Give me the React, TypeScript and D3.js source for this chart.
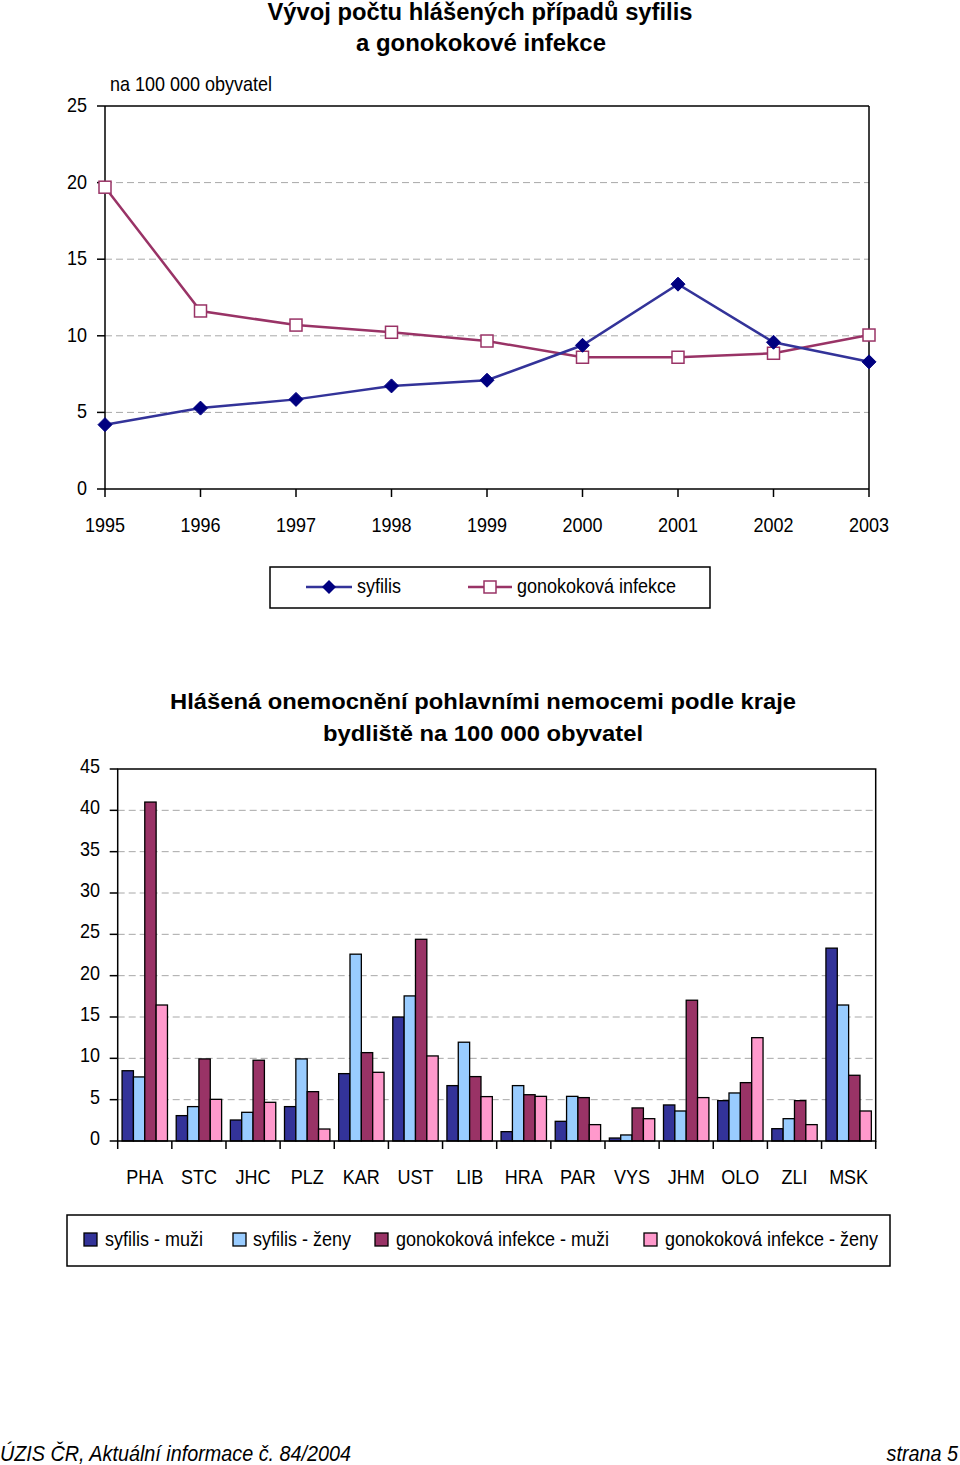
import React from "react";
import * as d3 from "d3";

const years = ["1995", "1996", "1997", "1998", "1999", "2000", "2001", "2002", "2003"];
const syfilis = [4.2, 5.28, 5.85, 6.73, 7.1, 9.38, 13.37, 9.58, 8.3];
const gonokokova = [19.7, 11.62, 10.7, 10.23, 9.66, 8.6, 8.6, 8.86, 10.05];
const topTicks = [0, 5, 10, 15, 20, 25];

const regions = ["PHA", "STC", "JHC", "PLZ", "KAR", "UST", "LIB", "HRA", "PAR", "VYS", "JHM", "OLO", "ZLI", "MSK"];
const syfMuzi = [8.5, 3.07, 2.54, 4.16, 8.15, 15.0, 6.7, 1.13, 2.38, 0.36, 4.36, 4.88, 1.49, 23.33];
const syfZeny = [7.75, 4.16, 3.47, 9.93, 22.6, 17.55, 11.95, 6.7, 5.4, 0.73, 3.63, 5.81, 2.7, 16.45];
const gonMuzi = [41.0, 9.93, 9.77, 5.97, 10.69, 24.4, 7.79, 5.6, 5.25, 4.0, 17.03, 7.06, 4.88, 7.95];
const gonZeny = [16.45, 5.04, 4.68, 1.45, 8.31, 10.29, 5.37, 5.4, 1.98, 2.7, 5.25, 12.5, 1.98, 3.63];
const barTicks = [0, 5, 10, 15, 20, 25, 30, 35, 40, 45];

const seriesNames = ["syfilis - muži", "syfilis - ženy", "gonokoková infekce - muži", "gonokoková infekce - ženy"];
const seriesColors = ["#333399", "#99CCFF", "#993366", "#FF99CC"];

const FONT = "'Liberation Sans', Arial, sans-serif";
const SX = 0.9;

function T({ x, y, children, anchor = "start", size = 20, weight = "normal", italic = false }: any) {
  return (
    <text
      transform={`translate(${x},${y}) scale(${SX},1)`}
      textAnchor={anchor}
      fontSize={size}
      fontWeight={weight}
      fontStyle={italic ? "italic" : "normal"}
      fontFamily={FONT}
      fill="#000"
    >
      {children}
    </text>
  );
}

export default function App() {
  // Top line chart
  const L = 105, R = 869, TOP = 106, BOT = 489;
  const x = d3.scalePoint<string>().domain(years).range([L, R]);
  const y = d3.scaleLinear().domain([0, 25]).range([BOT, TOP]);
  const line = d3.line<number>().x((_, i) => x(years[i])!).y((d) => y(d));

  // Bar chart
  const BL = 117.7, BR = 875.7, BT = 769, BB = 1141;
  const xb = d3.scaleBand<string>().domain(regions).range([BL, BR]).paddingInner(0).paddingOuter(0);
  const yb = d3.scaleLinear().domain([0, 45]).range([BB, BT]);
  const bw = xb.bandwidth() / 4.77;
  const xs = d3.scaleBand<number>().domain([0, 1, 2, 3]).range([0, bw * 4]);
  const allSeries = [syfMuzi, syfZeny, gonMuzi, gonZeny];
  const offset = (xb.bandwidth() - bw * 4) / 2;

  const diamond = (cx: number, cy: number, r: number) =>
    `M${cx},${cy - r}L${cx + r},${cy}L${cx},${cy + r}L${cx - r},${cy}Z`;

  return (
    <svg width={960} height={1465} style={{ position: "absolute", left: 0, top: 0, background: "#fff" }}>
      <rect x={0} y={0} width={960} height={1465} fill="#fff" />
      {/* Titles */}
      <text x={480} y={20} textAnchor="middle" fontSize={23} fontWeight="bold" fontFamily={FONT} textLength={425} lengthAdjust="spacingAndGlyphs">
        Vývoj počtu hlášených případů syfilis
      </text>
      <text x={481} y={51} textAnchor="middle" fontSize={23} fontWeight="bold" fontFamily={FONT} textLength={250} lengthAdjust="spacingAndGlyphs">
        a gonokokové infekce
      </text>
      <T x={110} y={91}>na 100 000 obyvatel</T>

      {/* grid */}
      {topTicks.filter((t) => t > 0 && t < 25).map((t) => (
        <line key={t} x1={L} x2={R} y1={y(t)} y2={y(t)} stroke="#a8a8a8" strokeWidth={1} strokeDasharray="7,4" />
      ))}
      {/* frame */}
      <line x1={L} x2={R} y1={TOP} y2={TOP} stroke="#000" strokeWidth={1.5} />
      <line x1={R} x2={R} y1={TOP} y2={BOT} stroke="#000" strokeWidth={1.5} />
      <line x1={L} x2={L} y1={TOP} y2={BOT} stroke="#000" strokeWidth={1.5} />
      <line x1={L} x2={R} y1={BOT} y2={BOT} stroke="#000" strokeWidth={1.5} />
      {topTicks.map((t) => (
        <g key={t}>
          <line x1={L - 8} x2={L} y1={y(t)} y2={y(t)} stroke="#000" strokeWidth={1.5} />
          <T x={87} y={y(t) + 6} anchor="end">{t}</T>
        </g>
      ))}
      {years.map((yr) => (
        <g key={yr}>
          <line x1={x(yr)} x2={x(yr)} y1={BOT} y2={BOT + 8} stroke="#000" strokeWidth={1.5} />
          <T x={x(yr)!} y={532} anchor="middle">{yr}</T>
        </g>
      ))}
      <path d={line(gonokokova)!} fill="none" stroke="#993366" strokeWidth={2.5} />
      <path d={line(syfilis)!} fill="none" stroke="#333399" strokeWidth={2.5} />
      {gonokokova.map((v, i) => (
        <rect key={i} x={x(years[i])! - 6} y={y(v) - 6} width={12} height={12} fill="#fff" stroke="#993366" strokeWidth={1.5} />
      ))}
      {syfilis.map((v, i) => (
        <path key={i} d={diamond(x(years[i])!, y(v), 7)} fill="#000080" stroke="#000080" strokeWidth={1} />
      ))}

      {/* legend 1 */}
      <rect x={270} y={567} width={440} height={41} fill="#fff" stroke="#000" strokeWidth={1.5} />
      <line x1={306} x2={352} y1={587} y2={587} stroke="#333399" strokeWidth={2.5} />
      <path d={diamond(329, 587, 7)} fill="#000080" />
      <T x={357} y={593}>syfilis</T>
      <line x1={468} x2={512} y1={587} y2={587} stroke="#993366" strokeWidth={2.5} />
      <rect x={484} y={581} width={12} height={12} fill="#fff" stroke="#993366" strokeWidth={1.5} />
      <T x={517} y={593}>gonokoková infekce</T>

      {/* Bar chart titles */}
      <text x={483} y={709} textAnchor="middle" fontSize={22} fontWeight="bold" fontFamily={FONT} textLength={626} lengthAdjust="spacingAndGlyphs">
        Hlášená onemocnění pohlavními nemocemi podle kraje
      </text>
      <text x={483} y={741} textAnchor="middle" fontSize={22} fontWeight="bold" fontFamily={FONT} textLength={320} lengthAdjust="spacingAndGlyphs">
        bydliště na 100 000 obyvatel
      </text>

      {barTicks.filter((t) => t > 0 && t < 45).map((t) => (
        <line key={t} x1={BL} x2={BR} y1={yb(t)} y2={yb(t)} stroke="#a8a8a8" strokeWidth={1} strokeDasharray="7,4" />
      ))}
      {regions.map((r, i) => (
        <g key={r}>
          {allSeries.map((s, k) => (
            <rect
              key={k}
              x={xb(r)! + offset + xs(k)!}
              y={yb(s[i])}
              width={bw}
              height={BB - yb(s[i])}
              fill={seriesColors[k]}
              stroke="#000"
              strokeWidth={1.3}
            />
          ))}
        </g>
      ))}
      <rect x={BL} y={BT} width={BR - BL} height={BB - BT} fill="none" stroke="#000" strokeWidth={1.5} />
      {barTicks.map((t) => (
        <g key={t}>
          <line x1={BL - 8} x2={BL} y1={yb(t)} y2={yb(t)} stroke="#000" strokeWidth={1.5} />
          <T x={100} y={yb(t) + 4} anchor="end">{t}</T>
        </g>
      ))}
      {[...regions.map((r) => xb(r)!), BR].map((xx, i) => (
        <line key={i} x1={xx} x2={xx} y1={BB} y2={BB + 8} stroke="#000" strokeWidth={1.5} />
      ))}
      {regions.map((r) => (
        <T key={r} x={xb(r)! + xb.bandwidth() / 2} y={1184} anchor="middle">{r}</T>
      ))}

      {/* legend 2 */}
      <rect x={67} y={1215} width={823} height={51} fill="#fff" stroke="#000" strokeWidth={1.5} />
      {seriesNames.map((n, k) => {
        const sx = [84, 233, 375, 644][k];
        const tx = [105, 253, 396, 665][k];
        return (
          <g key={n}>
            <rect x={sx} y={1233} width={13} height={13} fill={seriesColors[k]} stroke="#000" strokeWidth={1.3} />
            <T x={tx} y={1246}>{n}</T>
          </g>
        );
      })}

      {/* footer */}
      <T x={0} y={1461} italic size={22}>ÚZIS ČR, Aktuální informace č. 84/2004</T>
      <T x={958} y={1461} italic size={22} anchor="end">strana 5</T>
    </svg>
  );
}
